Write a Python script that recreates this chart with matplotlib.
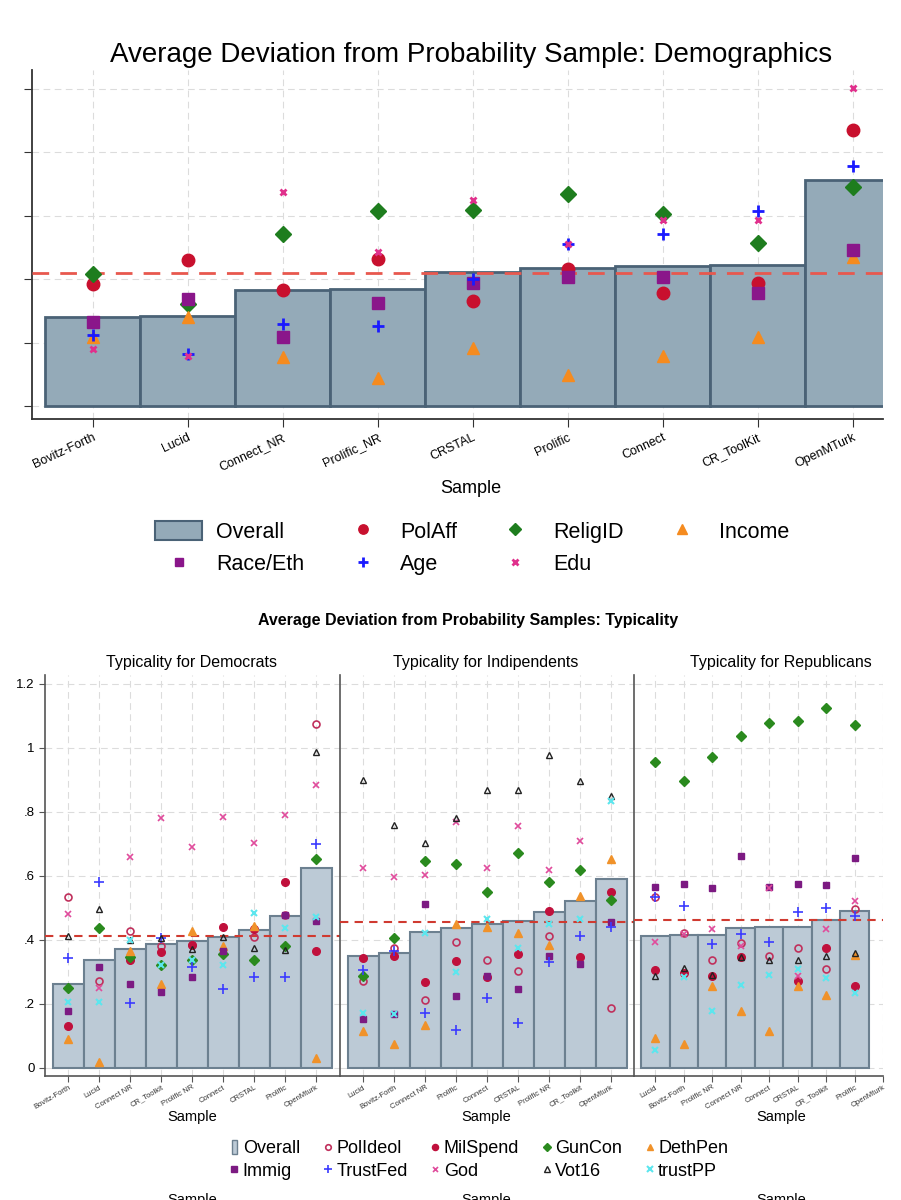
import numpy as np
import matplotlib
matplotlib.use('Agg')
import matplotlib.pyplot as plt
from matplotlib.patches import Rectangle
from matplotlib.lines import Line2D

plt.rcParams['font.family'] = ['Liberation Sans', 'DejaVu Sans']

nan = np.nan

# ---- top chart: demographics (y in tick units, labels are cut off in the original)
demo_samples = ['Bovitz-Forth', 'Lucid', 'Connect_NR', 'Prolific_NR', 'CRSTAL',
                'Prolific', 'Connect', 'CR_ToolKit', 'OpenMTurk']
demo_overall = [1.40, 1.43, 1.84, 1.85, 2.12, 2.18, 2.21, 2.22, 3.57]
demo_polaff = [1.92, 2.30, 1.84, 2.32, 1.66, 2.16, 1.78, 1.94, 4.36]
demo_religid = [2.09, 1.61, 2.71, 3.08, 3.10, 3.35, 3.03, 2.58, 3.46]
demo_income = [1.09, 1.41, 0.78, 0.44, 0.92, 0.50, 0.80, 1.09, 2.35]
demo_race = [1.33, 1.69, 1.09, 1.63, 1.94, 2.04, 2.04, 1.79, 2.46]
demo_age = [1.12, 0.82, 1.29, 1.26, 2.00, 2.55, 2.71, 3.08, 3.79]
demo_edu = [0.91, 0.79, 3.38, 2.43, 3.25, 2.55, 2.94, 2.93, 5.01]
demo_mean = 2.10

# ---- bottom chart: typicality
dem_samples = ['Bovitz-Forth', 'Lucid', 'Connect NR', 'CR_Toolkit', 'Prolific NR',
               'Connect', 'CRSTAL', 'Prolific', 'OpenMturk']
dem_overall = [0.260, 0.336, 0.370, 0.387, 0.395, 0.407, 0.430, 0.473, 0.623]
dem_polideol = [0.532, 0.271, 0.427, 0.379, 0.384, nan, 0.407, 0.478, 1.075]
dem_milspend = [0.129, nan, 0.338, 0.361, 0.382, 0.441, 0.434, 0.581, 0.366]
dem_guncon = [0.250, 0.435, 0.345, 0.321, 0.337, 0.354, 0.337, 0.381, 0.652]
dem_dethpen = [0.090, 0.019, 0.366, 0.263, 0.428, 0.381, 0.443, nan, 0.030]
dem_immig = [0.177, 0.315, 0.263, 0.237, 0.282, 0.366, nan, 0.478, 0.458]
dem_trustfed = [0.342, 0.579, 0.202, 0.404, 0.316, 0.246, 0.284, 0.284, 0.698]
dem_god = [0.480, 0.250, 0.658, 0.781, 0.691, 0.782, 0.703, 0.791, 0.884]
dem_vot16 = [0.411, 0.497, 0.400, 0.404, 0.370, 0.409, 0.374, 0.369, 0.985]
dem_trustpp = [0.204, 0.206, 0.400, 0.321, 0.337, 0.321, 0.484, 0.437, 0.471]
dem_mean = 0.410

ind_samples = ['Lucid', 'Bovitz-Forth', 'Connect NR', 'Prolific', 'Connect',
               'CRSTAL', 'Prolific NR', 'CR_Toolkit', 'OpenMturk']
ind_overall = [0.349, 0.359, 0.425, 0.437, 0.450, 0.457, 0.486, 0.522, 0.590]
ind_polideol = [0.271, 0.374, 0.210, 0.392, 0.337, 0.303, 0.410, nan, 0.187]
ind_milspend = [0.344, 0.348, 0.267, 0.332, 0.282, 0.355, 0.490, 0.346, 0.550]
ind_guncon = [0.288, 0.404, 0.645, 0.635, 0.550, 0.670, 0.580, 0.619, 0.523]
ind_dethpen = [0.116, 0.074, 0.134, 0.449, 0.440, 0.421, 0.383, 0.538, 0.653]
ind_immig = [0.151, 0.167, 0.512, 0.225, 0.288, 0.245, 0.349, 0.323, 0.456]
ind_trustfed = [0.305, 0.366, 0.172, 0.119, 0.218, 0.140, 0.329, 0.411, 0.439]
ind_god = [0.625, 0.596, 0.601, 0.767, 0.623, 0.756, 0.618, 0.707, nan]
ind_vot16 = [0.898, 0.757, 0.701, 0.780, 0.867, 0.867, 0.976, 0.897, 0.849]
ind_trustpp = [0.171, 0.167, 0.422, 0.298, 0.464, 0.374, 0.450, 0.466, 0.834]
ind_mean = 0.456

rep_samples = ['Lucid', 'Bovitz-Forth', 'Prolific NR', 'Connect NR', 'Connect',
               'CRSTAL', 'CR_Toolkit', 'Prolific', 'OpenMturk']
rep_overall = [0.413, 0.415, 0.414, 0.437, 0.440, 0.440, 0.461, 0.490, nan]
rep_polideol = [0.533, 0.422, 0.338, 0.389, 0.348, 0.374, 0.309, 0.497, nan]
rep_milspend = [0.304, 0.297, 0.287, 0.346, nan, 0.271, 0.373, 0.255, nan]
rep_guncon = [0.955, 0.895, 0.971, 1.036, 1.076, 1.082, 1.125, 1.071, nan]
rep_dethpen = [0.094, 0.073, 0.255, 0.177, 0.115, 0.254, 0.227, 0.352, nan]
rep_immig = [0.565, 0.575, 0.563, 0.660, 0.565, 0.575, 0.571, 0.656, nan]
rep_trustfed = [0.533, 0.505, 0.387, 0.418, 0.394, 0.487, 0.498, 0.474, nan]
rep_god = [0.392, 0.418, 0.432, 0.379, 0.562, 0.287, 0.434, 0.522, nan]
rep_vot16 = [0.286, 0.312, 0.291, 0.346, 0.336, 0.338, 0.349, 0.358, nan]
rep_trustpp = [0.056, 0.284, 0.177, 0.258, 0.291, 0.309, 0.280, 0.233, nan]
rep_mean = 0.462

W, H = 901, 1200
GRID = dict(color='#dcdcdc', linestyle=(0, (6, 4)), linewidth=0.8)


def box(l, t, r, b):
    # pixel box -> figure fraction
    return [l / W, 1 - b / H, (r - l) / W, (b - t) / H]


# marker styles
top_styles = {
    'PolAff': dict(marker='o', color='#c8102e', ms=9),
    'ReligID': dict(marker='D', color='#1e7d1e', ms=8),
    'Income': dict(marker='^', color='#f58b1f', ms=9),
    'Race/Eth': dict(marker='s', color='#8a168a', ms=8.5),
    'Age': dict(marker='+', color='#1a1aff', ms=9, mew=2),
    'Edu': dict(marker='x', color='#e0308c', ms=5, mew=2),
}
bot_styles = {
    'PolIdeol': dict(marker='o', color='#c0305c', mfc='none', ms=5, mew=1.2),
    'MilSpend': dict(marker='o', color='#c0103c', ms=5.5),
    'GunCon': dict(marker='D', color='#2a8a1e', ms=5),
    'DethPen': dict(marker='^', color='#f0922a', ms=5.5),
    'Immig': dict(marker='s', color='#7c1a82', ms=5),
    'TrustFed': dict(marker='+', color='#3b3bff', ms=7, mew=1.2),
    'God': dict(marker='x', color='#e04c9c', ms=4.5, mew=1.2),
    'Vot16': dict(marker='^', color='#222222', mfc='none', ms=5, mew=1),
    'trustPP': dict(marker='x', color='#5ce6ee', ms=5, mew=1.5),
}

fig = plt.figure(figsize=(W / 100, H / 100), dpi=100)

# ================= top chart =================
ax = fig.add_axes(box(32, 70, 883, 419))
x = np.arange(len(demo_samples))
ax.bar(x, demo_overall, width=1.0, color='#94aab8', edgecolor='#4a6276',
       linewidth=2, zorder=2)
ax.axhline(demo_mean, color='#e8584e', lw=2, ls=(0, (6, 4)), zorder=3)
top_series = [('PolAff', demo_polaff), ('ReligID', demo_religid),
              ('Income', demo_income), ('Race/Eth', demo_race),
              ('Age', demo_age), ('Edu', demo_edu)]
for name, vals in top_series:
    ax.plot(x, vals, ls='none', zorder=4, **top_styles[name])

ax.set_xlim(-0.637, 8.32)
ax.set_ylim(-0.2, 5.3)
ax.set_yticks(range(6))
ax.set_xticks(x)
ax.set_xticklabels(demo_samples, rotation=25, ha='right', rotation_mode='anchor',
                   fontsize=9)
ax.tick_params(axis='y', labelleft=False, length=6, color='#333333')
ax.tick_params(axis='x', length=6, color='#333333', pad=3)
ax.grid(True, **GRID)
ax.set_axisbelow(True)
for s in ['top', 'right']:
    ax.spines[s].set_visible(False)
for s in ['left', 'bottom']:
    ax.spines[s].set_color('#333333')
    ax.spines[s].set_linewidth(1.3)

fig.text(471 / W, 1 - 55 / H, 'Average Deviation from Probability Sample: Demographics',
         ha='center', va='center', fontsize=20)
fig.text(471 / W, 1 - 488 / H, 'Sample', ha='center', va='center', fontsize=13)

# legend, reordered so it reads row by row
h_over = Rectangle((0, 0), 1, 1, facecolor='#94aab8', edgecolor='#4a6276', lw=1.5)
def mk(st, scale=0.75):
    st = dict(st)
    st['ms'] = st['ms'] * scale
    return Line2D([], [], ls='none', **st)
handles = [h_over, mk(top_styles['Race/Eth']), mk(top_styles['PolAff']),
           mk(top_styles['Age']), mk(top_styles['ReligID']), mk(top_styles['Edu']),
           mk(top_styles['Income'])]
labels = ['Overall', 'Race/Eth', 'PolAff', 'Age', 'ReligID', 'Edu', 'Income']
fig.legend(handles, labels, ncol=4, loc='upper left',
           bbox_to_anchor=(155 / W, 1 - 521 / H), frameon=False, fontsize=15.5,
           handlelength=2.2, handleheight=0.95, handletextpad=0.65,
           columnspacing=1.6, labelspacing=0.5, borderpad=0, borderaxespad=0)

# ================= bottom chart =================
fig.text(468 / W, 1 - 621 / H, 'Average Deviation from Probability Samples: Typicality',
         ha='center', va='center', fontsize=11.5, fontweight='bold')

panels = [
    (45, 340, 'Typicality for Democrats', 192, dem_samples, dem_overall, dem_mean,
     [dem_polideol, dem_milspend, dem_guncon, dem_dethpen, dem_immig,
      dem_trustfed, dem_god, dem_vot16, dem_trustpp]),
    (340, 634, 'Typicality for Indipendents', 486, ind_samples, ind_overall, ind_mean,
     [ind_polideol, ind_milspend, ind_guncon, ind_dethpen, ind_immig,
      ind_trustfed, ind_god, ind_vot16, ind_trustpp]),
    (634, 883, 'Typicality for Republicans', 781, rep_samples, rep_overall, rep_mean,
     [rep_polideol, rep_milspend, rep_guncon, rep_dethpen, rep_immig,
      rep_trustfed, rep_god, rep_vot16, rep_trustpp]),
]
bot_names = list(bot_styles.keys())

for i, (l, r, title, tx, cats, overall, mean, series) in enumerate(panels):
    ax = fig.add_axes(box(l, 675, r, 1075.7))
    x = np.arange(len(cats))
    ax.bar(x, overall, width=1.0, color='#bccad6', edgecolor='#6c8090',
           linewidth=1.5, zorder=2)
    ax.axhline(mean, color='#d03a30', lw=1.5, ls=(0, (4, 3)), zorder=3)
    for name, vals in zip(bot_names, series):
        ax.plot(x, vals, ls='none', zorder=4, **bot_styles[name])
    ax.set_xlim(-0.75, -0.75 + (r - l) / 31.0)
    ax.set_ylim(-0.025, 1.227)
    ax.set_xticks(x)
    ax.set_xticklabels(cats, rotation=30, ha='right', rotation_mode='anchor',
                       fontsize=5.5, color='#333333')
    ax.set_yticks([0, 0.2, 0.4, 0.6, 0.8, 1.0, 1.2])
    if i == 0:
        ax.set_yticklabels(['0', '.2', '.4', '.6', '.8', '1', '1.2'], fontsize=9.5)
        ax.tick_params(axis='y', length=4, color='#555555')
    else:
        ax.tick_params(axis='y', labelleft=False, length=0)
    ax.tick_params(axis='x', length=4, color='#555555', pad=2)
    ax.grid(True, **GRID)
    ax.set_axisbelow(True)
    for s in ['top', 'right']:
        ax.spines[s].set_visible(False)
    for s in ['left', 'bottom']:
        ax.spines[s].set_color('#555555')
        ax.spines[s].set_linewidth(1.2)
    fig.text(tx / W, 1 - 663 / H, title, ha='center', va='center', fontsize=11.5)
    fig.text(tx / W, 1 - 1117 / H, 'Sample', ha='center', va='center', fontsize=10.5)
    # axis title cut off by the bottom edge, as in the screenshot
    fig.text(tx / W, 0.0, 'Sample', ha='center', va='center', fontsize=10.5)

h_bar = Rectangle((0, 0), 1, 1, facecolor='#bccad6', edgecolor='#6c8090', lw=1)
def mk2(name):
    st = dict(bot_styles[name])
    st['ms'] = st['ms'] * 0.8
    return Line2D([], [], ls='none', **st)
handles = [h_bar, mk2('Immig'), mk2('PolIdeol'), mk2('TrustFed'), mk2('MilSpend'),
           mk2('God'), mk2('GunCon'), mk2('Vot16'), mk2('DethPen'), mk2('trustPP')]
labels = ['Overall', 'Immig', 'PolIdeol', 'TrustFed', 'MilSpend', 'God',
          'GunCon', 'Vot16', 'DethPen', 'trustPP']
fig.legend(handles, labels, ncol=5, loc='upper left',
           bbox_to_anchor=(232 / W, 1 - 1140 / H), frameon=False, fontsize=13,
           handlelength=0.25, handleheight=0.8, handletextpad=0.35,
           columnspacing=1.4, labelspacing=0.3, borderpad=0, borderaxespad=0)

fig.savefig('out.png', dpi=100)
